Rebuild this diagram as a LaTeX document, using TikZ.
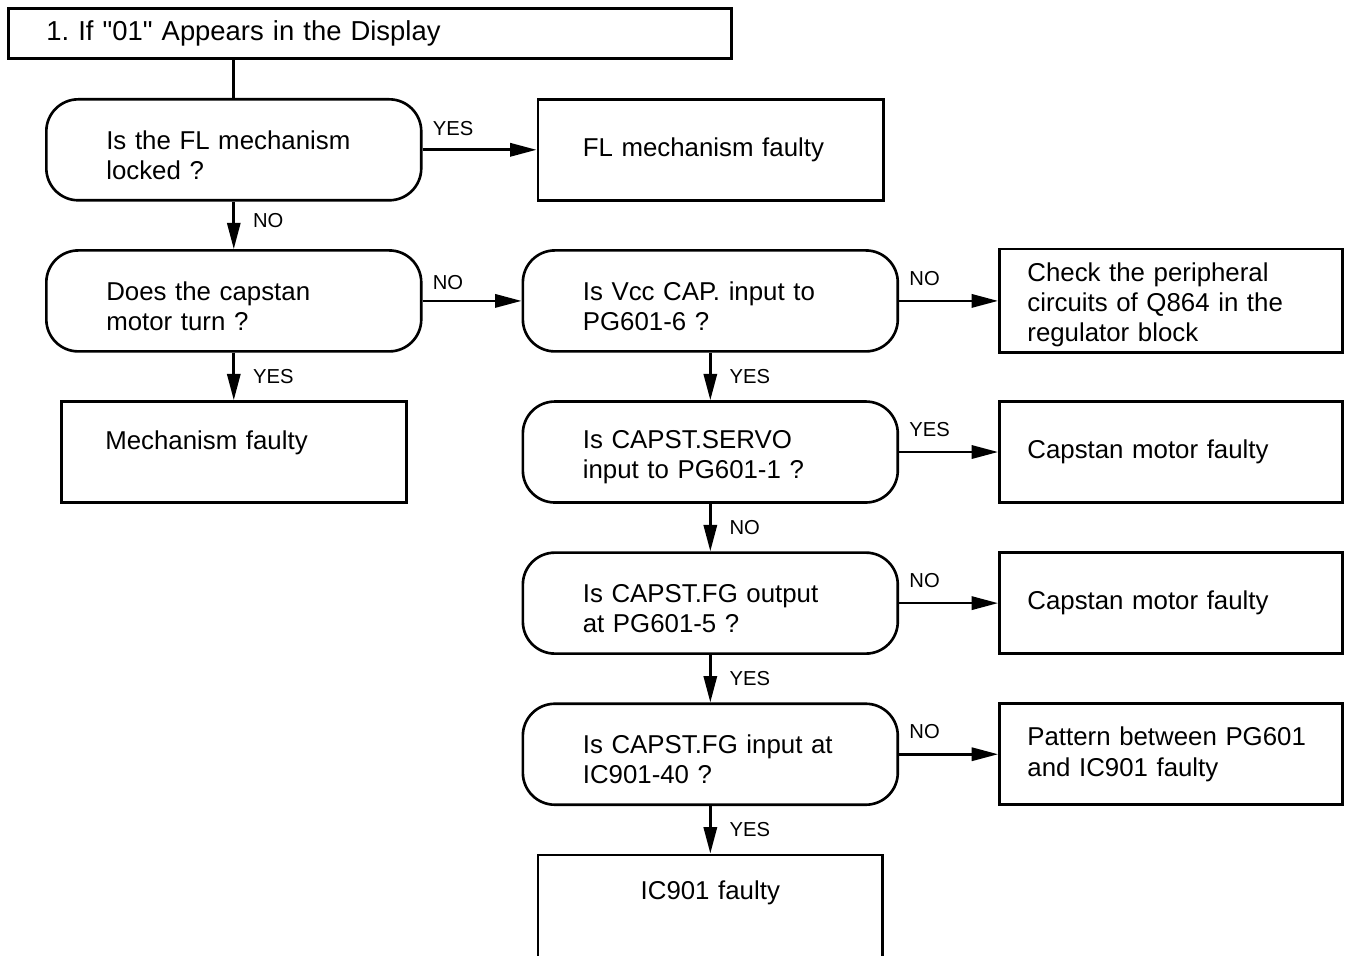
\documentclass[tikz,border=0pt]{standalone}
\usepackage{fontspec}
\setmainfont{Liberation Sans}[Ligatures=TeXOff]
\usetikzlibrary{positioning,arrows.meta}
\newcommand{\txt}{\fontsize{14.7}{17.2}\selectfont}
\newcommand{\lbl}{\fontsize{11.5}{13}\selectfont}
\frenchspacing

\begin{document}
\begin{tikzpicture}[x=0.02cm,y=-0.02cm,line width=1.5pt,
  >={Triangle[length=15pt,width=7.5pt]},
  ask/.style={draw,rounded corners=0.64cm,minimum width=7.5cm,minimum height=2.02cm,
    inner xsep=1.2cm,text width=5.1cm,align=left,font=\txt,
    execute at begin node={\rule{0pt}{5.8mm}}},
  fault/.style={draw,minimum width=6.86cm,minimum height=2.02cm,
    inner xsep=0.56cm,text width=5.74cm,align=left,font=\txt},
  yn/.style={font=\lbl,inner sep=0pt}]
  \useasboundingbox (0,0) rectangle (1345,956);
  \clip (0,0) rectangle (1345,956);
  \node[draw,anchor=north west,minimum width=14.46cm,minimum height=1.0cm,
    inner xsep=0.76cm,text width=12.94cm,align=left,font=\fontsize{15.6}{18}\selectfont]
    (title) at (7,7) {1. If "01" Appears in the Display};
  \node[ask,anchor=north west] (locked) at (45,98) {Is the FL mechanism\\locked ?};
  \node[fault,right=2.28cm of locked,minimum width=6.92cm,inner xsep=0.9cm,
    text width=5.12cm] (flbad) {FL mechanism faulty};
  \node[ask,below=0.95cm of locked] (turns) {Does the capstan\\motor turn ?};
  \node[ask,right=1.98cm of turns] (vcc) {Is Vcc CAP. input to\\PG601-6 ?};
  \node[fault,right=1.98cm of vcc] (chkreg)
    {\rule{0pt}{5.2mm}Check the peripheral\\circuits of Q864 in the\\regulator block};
  \node[fault,below=0.95cm of turns,minimum width=6.9cm,inner xsep=0.88cm,
    text width=5.14cm,inner ysep=0pt,text height=0.96cm,text depth=1.06cm]
    (mechbad) {Mechanism faulty};
  \node[ask,below=0.95cm of vcc] (servo) {Is CAPST.SERVO\\input to PG601-1 ?};
  \node[fault,right=1.98cm of servo] (capbad) {Capstan motor faulty};
  \node[ask,below=0.95cm of servo] (fgout) {Is CAPST.FG output\\at PG601-5 ?};
  \node[fault,right=1.98cm of fgout] (capbadb) {Capstan motor faulty};
  \node[ask,below=0.95cm of fgout] (fgin) {Is CAPST.FG input at\\IC901-40 ?};
  \node[fault,right=1.98cm of fgin] (pattern) {Pattern between PG601\\and IC901 faulty};
  \node[fault,below=0.95cm of fgin,minimum width=6.9cm,inner xsep=0.88cm,
    text width=5.14cm,align=center,inner ysep=0pt,text height=0.89cm,text depth=1.45cm]
    (icbad) {IC901 faulty};

  \draw (title.south -| locked.north) -- (locked.north);
  \draw[->] (locked) -- node[yn,pos=0,anchor=south west,xshift=0.18cm,yshift=0.25cm]{YES} (flbad);
  \draw[->] (locked) -- node[yn,midway,anchor=west,xshift=0.36cm,yshift=0.1cm]{NO} (turns);
  \draw[->] (turns) -- node[yn,pos=0,anchor=south west,xshift=0.18cm,yshift=0.2cm]{NO} (vcc);
  \draw[->] (turns) -- node[yn,midway,anchor=west,xshift=0.36cm]{YES} (mechbad);
  \draw[->] (vcc) -- node[yn,pos=0,anchor=south west,xshift=0.18cm,yshift=0.28cm]{NO} (chkreg);
  \draw[->] (vcc) -- node[yn,midway,anchor=west,xshift=0.36cm]{YES} (servo);
  \draw[->] (servo) -- node[yn,pos=0,anchor=south west,xshift=0.18cm,yshift=0.28cm]{YES} (capbad);
  \draw[->] (servo) -- node[yn,midway,anchor=west,xshift=0.36cm]{NO} (fgout);
  \draw[->] (fgout) -- node[yn,pos=0,anchor=south west,xshift=0.18cm,yshift=0.28cm]{NO} (capbadb);
  \draw[->] (fgout) -- node[yn,midway,anchor=west,xshift=0.36cm]{YES} (fgin);
  \draw[->] (fgin) -- node[yn,pos=0,anchor=south west,xshift=0.18cm,yshift=0.28cm]{NO} (pattern);
  \draw[->] (fgin) -- node[yn,midway,anchor=west,xshift=0.36cm]{YES} (icbad);
\end{tikzpicture}
\end{document}
